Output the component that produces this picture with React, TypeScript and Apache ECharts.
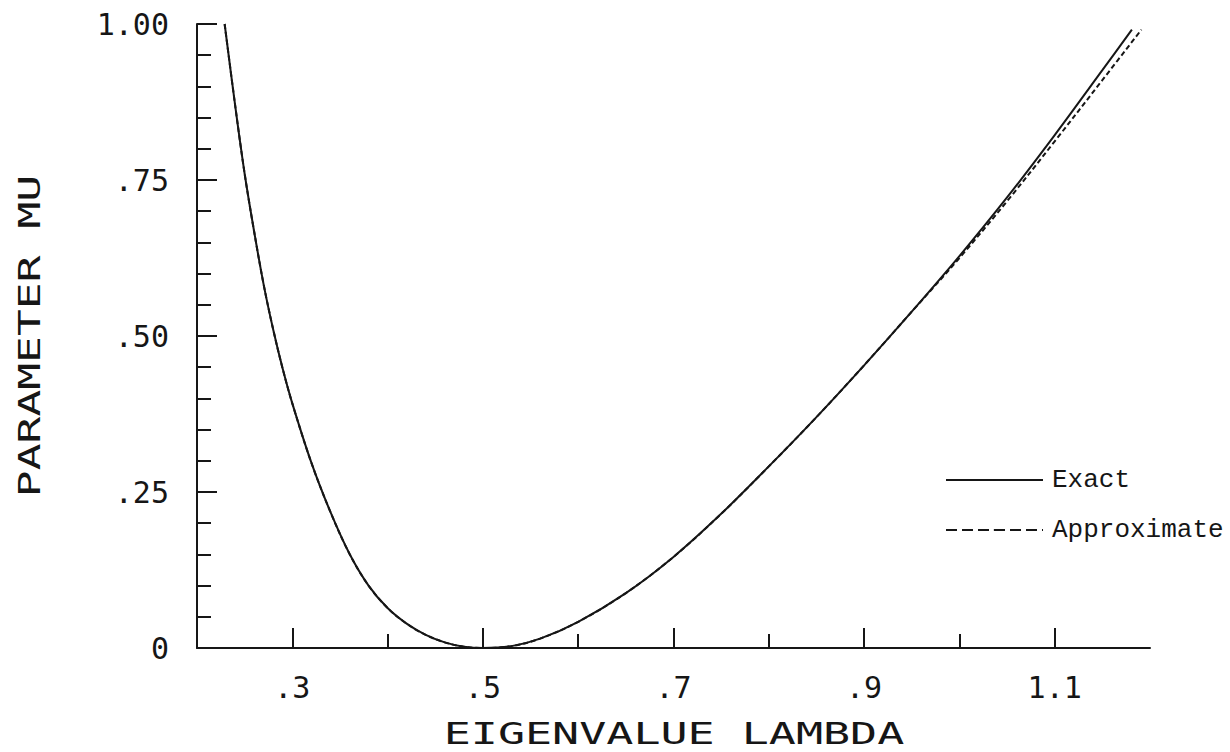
import React, { useEffect, useRef } from "react";
import * as echarts from "echarts";

// Eigenvalue lambda (x) and parameter mu (y)
const exactLambda = [
  0.229, 0.24, 0.25, 0.26, 0.27, 0.28, 0.29, 0.3, 0.32, 0.34, 0.36, 0.38, 0.4,
  0.42, 0.44, 0.46, 0.48, 0.5, 0.53, 0.56, 0.6, 0.65, 0.7, 0.75, 0.8, 0.85,
  0.9, 0.95, 1.0, 1.05, 1.1, 1.15, 1.181,
];
const exactMu = [
  1.0, 0.87, 0.76, 0.667, 0.582, 0.51, 0.447, 0.392, 0.297, 0.218, 0.151, 0.1,
  0.064, 0.039, 0.021, 0.009, 0.002, 0.0, 0.003, 0.015, 0.042, 0.088, 0.146,
  0.215, 0.291, 0.37, 0.453, 0.539, 0.628, 0.722, 0.822, 0.926, 0.991,
];
const approxLambda = [
  0.229, 0.24, 0.25, 0.26, 0.27, 0.28, 0.29, 0.3, 0.32, 0.34, 0.36, 0.38, 0.4,
  0.42, 0.44, 0.46, 0.48, 0.5, 0.53, 0.56, 0.6, 0.65, 0.7, 0.75, 0.8, 0.85,
  0.9, 0.95, 1.0, 1.05, 1.1, 1.15, 1.191,
];
const approxMu = [
  1.0, 0.87, 0.76, 0.667, 0.582, 0.51, 0.447, 0.392, 0.297, 0.218, 0.151, 0.1,
  0.064, 0.039, 0.021, 0.009, 0.002, 0.0, 0.003, 0.015, 0.042, 0.088, 0.146,
  0.215, 0.291, 0.37, 0.453, 0.539, 0.625, 0.716, 0.812, 0.91, 0.991,
];

const xMajorTicks = [0.3, 0.5, 0.7, 0.9, 1.1];
const xMinorTicks = [0.4, 0.6, 0.8, 1.0];
const xTickLabels = [".3", ".5", ".7", ".9", "1.1"];
const yTickValues = [0, 0.25, 0.5, 0.75, 1.0];
const yTickLabels = ["0", ".25", ".50", ".75", "1.00"];

const seriesNames = ["Exact", "Approximate"];
const xTitle = "EIGENVALUE LAMBDA";
const yTitle = "PARAMETER MU";

const INK = "#161616";
const PLOT_FONT = "DejaVu Sans Mono";

export default function App() {
  const ref = useRef<HTMLDivElement>(null);

  useEffect(() => {
    if (!ref.current) return;
    const chart = echarts.init(ref.current, null, { renderer: "svg" });

    const exactData = exactLambda.map((l, i) => [l, exactMu[i]]);
    const approxData = approxLambda.map((l, i) => [l, approxMu[i]]);

    const grid = { left: 197, right: 80, top: 24, bottom: 104 };

    const option: any = {
      animation: false,
      backgroundColor: "#ffffff",
      grid: { ...grid, outerBoundsMode: "none" },
      xAxis: [
        {
          type: "value",
          min: 0.2,
          max: 1.2,
          axisLine: { show: true, lineStyle: { color: INK, width: 2 } },
          splitLine: { show: false },
          axisTick: {
            show: true,
            inside: true,
            length: 20,
            lineStyle: { color: INK, width: 2 },
            customValues: xMajorTicks,
          },
          axisLabel: {
            show: true,
            customValues: xMajorTicks,
            formatter: (v: number) => {
              const idx = xMajorTicks.findIndex((t) => Math.abs(t - v) < 1e-6);
              return idx >= 0 ? xTickLabels[idx] : "";
            },
            fontFamily: PLOT_FONT,
            fontSize: 30,
            color: INK,
            margin: 24,
          },
        },
        {
          type: "value",
          min: 0.2,
          max: 1.2,
          position: "bottom",
          axisLine: { show: false },
          splitLine: { show: false },
          axisLabel: { show: false },
          axisTick: {
            show: true,
            inside: true,
            length: 14,
            lineStyle: { color: INK, width: 2 },
            customValues: xMinorTicks,
          },
        },
      ],
      yAxis: {
        type: "value",
        min: 0,
        max: 1,
        interval: 0.25,
        axisLine: { show: true, lineStyle: { color: INK, width: 2 } },
        splitLine: { show: false },
        axisTick: {
          show: true,
          inside: true,
          length: 20,
          lineStyle: { color: INK, width: 2 },
        },
        minorTick: {
          show: true,
          splitNumber: 5,
          length: 14,
          lineStyle: { color: INK, width: 2 },
        },
        axisLabel: {
          formatter: (v: number) => {
            const idx = yTickValues.findIndex((t) => Math.abs(t - v) < 1e-6);
            return idx >= 0 ? yTickLabels[idx] : "";
          },
          fontFamily: PLOT_FONT,
          fontSize: 30,
          color: INK,
          margin: 28,
        },
      },
      legend: {
        show: true,
        orient: "vertical",
        left: 940,
        top: 462,
        itemWidth: 97,
        itemHeight: 2,
        itemGap: 24,
        selectedMode: false,
        data: [
          { name: seriesNames[0] },
          { name: seriesNames[1], lineStyle: { type: [11, 5] } },
        ],
        textStyle: {
          fontFamily: "Liberation Mono",
          fontSize: 26,
          color: INK,
          lineHeight: 26,
          padding: [0, 0, 0, 4],
        },
      },
      graphic: [
        {
          type: "text",
          x: 674,
          y: 734,
          scaleX: 1.5,
          style: {
            text: xTitle,
            font: `30px "${PLOT_FONT}"`,
            fill: INK,
            textAlign: "center",
            textVerticalAlign: "middle",
          },
        },
        {
          type: "text",
          x: 29,
          y: 336,
          rotation: Math.PI / 2,
          scaleX: 1.44,
          style: {
            text: yTitle,
            font: `31px "${PLOT_FONT}"`,
            fill: INK,
            textAlign: "center",
            textVerticalAlign: "middle",
          },
        },
      ],
      series: [
        {
          name: seriesNames[0],
          type: "line",
          xAxisIndex: 0,
          data: exactData,
          smooth: 0.35,
          symbol: "none",
          lineStyle: { color: INK, width: 2, type: "solid" },
          itemStyle: { color: INK },
          z: 3,
        },
        {
          name: seriesNames[1],
          type: "line",
          xAxisIndex: 0,
          data: approxData,
          smooth: 0.35,
          symbol: "none",
          lineStyle: { color: INK, width: 2, type: [5, 3] },
          itemStyle: { color: INK },
          z: 4,
        },
      ],
    };

    chart.setOption(option);
    return () => chart.dispose();
  }, []);

  return (
    <div
      ref={ref}
      style={{
        position: "fixed",
        left: 0,
        top: 0,
        width: 1230,
        height: 752,
        background: "#fff",
      }}
    />
  );
}
